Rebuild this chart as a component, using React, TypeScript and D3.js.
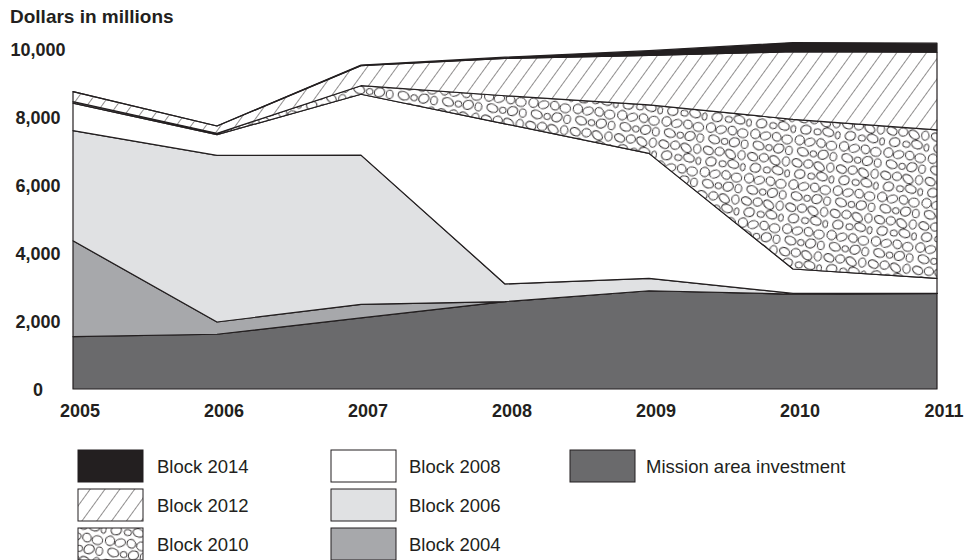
import React from "react"
import * as d3 from "d3"

const years = [2005, 2006, 2007, 2008, 2009, 2010, 2011]

// values in millions of dollars (bottom layer first)
const missionArea = [1540, 1610, 2090, 2570, 2890, 2790, 2810]
const block2004 = [2820, 360, 400, 0, 0, 0, 0]
const block2006 = [3240, 4900, 4390, 520, 365, 20, 0]
const block2008 = [810, 610, 1790, 4710, 3675, 720, 445]
const block2010 = [40, 40, 250, 825, 1425, 4400, 4365]
const block2012 = [295, 215, 590, 1095, 1455, 1990, 2285]
const block2014 = [0, 0, 20, 40, 140, 270, 265]

const yTicks = [0, 2000, 4000, 6000, 8000, 10000]

const seriesKeys = ["mission", "b2004", "b2006", "b2008", "b2010", "b2012", "b2014"]
const seriesFills = {
  mission: "#6a6a6c",
  b2004: "#a7a8ab",
  b2006: "#e0e1e3",
  b2008: "#ffffff",
  b2010: "url(#cobble)",
  b2012: "url(#hatch)",
  b2014: "#231f20"
}

// legend columns, top to bottom
const legendCols = [
  [["b2014", "Block 2014"], ["b2012", "Block 2012"], ["b2010", "Block 2010"]],
  [["b2008", "Block 2008"], ["b2006", "Block 2006"], ["b2004", "Block 2004"]],
  [["mission", "Mission area investment"]]
]

// pebble shapes for the Block 2010 texture: cx, cy, rx, ry, angle
const pebbles = [
  [4, 4, 3.4, 2.5, 20], [12, 3.6, 3, 2.7, -10], [20, 4.4, 3.7, 2.5, 30], [28, 4, 2.4, 3, 0],
  [7, 11.6, 3.4, 2.9, -20], [15.4, 12, 2.4, 2, 0], [23, 11.2, 3.7, 2.6, 15], [30, 12.4, 1.6, 2.4, 0],
  [3.6, 19.6, 3, 3.1, 10], [11, 20, 3.4, 2.5, -25], [19, 19.6, 3, 2.7, 40], [26.6, 20.4, 3.4, 2.9, 0],
  [7, 27.6, 3.7, 2.6, 15], [14.6, 28, 2.2, 2, 0], [21.6, 27.6, 3.4, 2.9, -30], [29, 28, 2.2, 2.7, 0]
]

const W = 978
const H = 560
const font = "'Liberation Sans', Arial, Helvetica, sans-serif"
const ink = "#231f20"

export default function App() {
  const table = years.map((yr, i) => ({
    year: yr,
    mission: missionArea[i],
    b2004: block2004[i],
    b2006: block2006[i],
    b2008: block2008[i],
    b2010: block2010[i],
    b2012: block2012[i],
    b2014: block2014[i]
  }))

  const x = d3.scaleLinear().domain([2005, 2011]).range([73, 937])
  const y = d3.scaleLinear().domain([0, 10000]).range([389, 49])

  const stacked = d3.stack().keys(seriesKeys)(table)
  const area = d3
    .area()
    .x((d) => x(d.data.year))
    .y0((d) => y(d[0]))
    .y1((d) => y(d[1]))

  return (
    <svg
      width={W}
      height={H}
      style={{ position: "absolute", left: 0, top: 0, background: "#fff" }}
      fontFamily={font}
    >
      <defs>
        <pattern id="hatch" patternUnits="userSpaceOnUse" width={12} height={12} patternTransform="rotate(36)">
          <rect width={12} height={12} fill="#fff" />
          <line x1={0} y1={0} x2={0} y2={12} stroke={ink} strokeWidth={1} />
        </pattern>
        <pattern id="cobble" patternUnits="userSpaceOnUse" width={32} height={32} patternTransform="scale(1.4) rotate(8)">
          <rect width={32} height={32} fill="#fff" />
          {pebbles.map((p, i) => (
            <ellipse
              key={i}
              cx={p[0]}
              cy={p[1]}
              rx={p[2] * 1.1}
              ry={p[3] * 1.1}
              transform={`rotate(${p[4]} ${p[0]} ${p[1]})`}
              fill="none"
              stroke={ink}
              strokeWidth={0.65}
            />
          ))}
        </pattern>
      </defs>

      <text x={10} y={23} fontSize={19} fontWeight="bold" fill={ink}>
        Dollars in millions
      </text>

      {stacked.map((s) => (
        <path
          key={s.key}
          d={area(s)}
          fill={seriesFills[s.key]}
          stroke={ink}
          strokeWidth={1.2}
          strokeLinejoin="round"
        />
      ))}

      {yTicks.map((t) => (
        <text key={t} x={38} y={y(t) + 6.5} textAnchor="middle" fontSize={18} fontWeight="bold" fill={ink}>
          {d3.format(",")(t)}
        </text>
      ))}

      {years.map((yr) => (
        <text key={yr} x={x(yr) + 7} y={417} textAnchor="middle" fontSize={18} fontWeight="bold" fill={ink}>
          {yr}
        </text>
      ))}

      {legendCols.map((col, ci) =>
        col.map(([key, label], ri) => {
          const sx = [78, 331, 570][ci]
          const tx = [157, 409, 646][ci]
          const sy = 450 + ri * 39
          return (
            <g key={key}>
              <rect x={sx} y={sy} width={65} height={32} fill={seriesFills[key]} stroke={ink} strokeWidth={1} />
              <text x={tx} y={sy + 23} fontSize={18.5} fill={ink}>
                {label}
              </text>
            </g>
          )
        })
      )}
    </svg>
  )
}
